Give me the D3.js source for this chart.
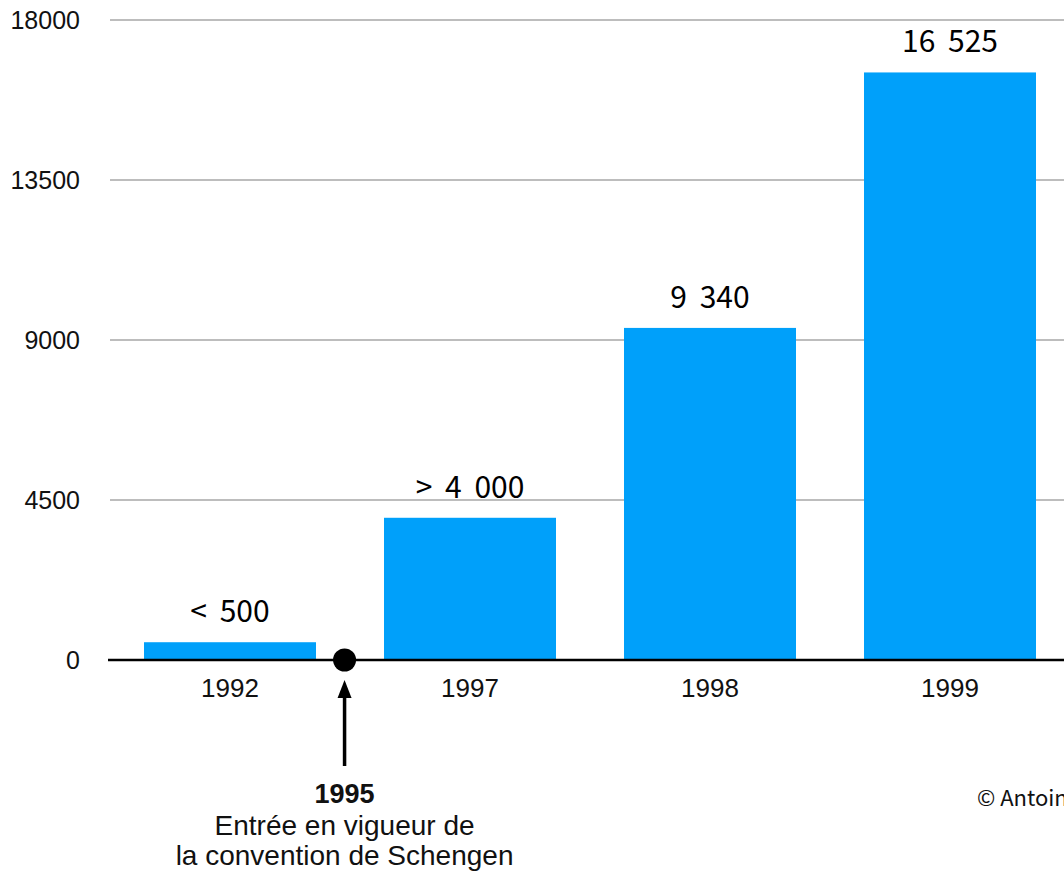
<!DOCTYPE html>
<html>
<head>
<meta charset="utf-8">
<script src="https://cdn.jsdelivr.net/npm/d3@7"></script>
<style>
  html, body { margin: 0; padding: 0; background: #fff; overflow: hidden; }
  svg { display: block; }
</style>
</head>
<body>
<svg id="chart" width="1064" height="875"></svg>
<script>
const categories = ["1992", "1997", "1998", "1999"];
const values = [500, 4000, 9340, 16525];
const valueLabels = ["< 500", "> 4 000", "9 340", "16 525"];
const yTicks = [0, 4500, 9000, 13500, 18000];
const eventYear = "1995";
const eventLines = ["Entrée en vigueur de", "la convention de Schengen"];
const credit = "© Antoine";

const svg = d3.select("#chart");
const x = d3.scaleBand().domain(categories).range([110, 1070])
  .paddingInner(68 / 240).paddingOuter(34 / 240);
const y = d3.scaleLinear().domain([0, 18000]).range([660, 20]);

// gridlines
svg.append("g").selectAll("line").data(yTicks.filter(d => d > 0)).join("line")
  .attr("x1", 110).attr("x2", 1070)
  .attr("y1", d => y(d)).attr("y2", d => y(d))
  .attr("stroke", "#bdbdbd").attr("stroke-width", 2);

// y tick labels
svg.append("g").selectAll("text").data(yTicks).join("text")
  .attr("x", 80).attr("y", d => y(d)).attr("dy", "0.36em")
  .attr("text-anchor", "end")
  .attr("font-family", "Liberation Sans, Arial, sans-serif")
  .attr("font-size", 25).attr("fill", "#111")
  .text(d => d);

// bars
svg.append("g").selectAll("rect").data(values).join("rect")
  .attr("x", (d, i) => x(categories[i]))
  .attr("width", x.bandwidth())
  .attr("y", d => y(d))
  .attr("height", d => y(0) - y(d))
  .attr("fill", "#00a0fa");

// value labels
svg.append("g").selectAll("text").data(values).join("text")
  .attr("x", (d, i) => x(categories[i]) + x.bandwidth() / 2)
  .attr("y", d => y(d) - 20)
  .attr("text-anchor", "middle")
  .attr("font-family", "Noto Sans CJK KR, Noto Sans, sans-serif")
  .attr("font-size", 30).attr("word-spacing", 6).attr("fill", "#000")
  .text((d, i) => valueLabels[i]);

// x axis baseline
svg.append("line").attr("x1", 108).attr("x2", 1070)
  .attr("y1", y(0)).attr("y2", y(0))
  .attr("stroke", "#000").attr("stroke-width", 2.5);

// category labels
svg.append("g").selectAll("text").data(categories).join("text")
  .attr("x", d => x(d) + x.bandwidth() / 2)
  .attr("y", 697)
  .attr("text-anchor", "middle")
  .attr("font-family", "Liberation Sans, Arial, sans-serif")
  .attr("font-size", 26).attr("fill", "#111")
  .text(d => d);

// event marker
const ex = x("1992") + x.bandwidth() + (x("1997") - x("1992") - x.bandwidth()) * 0.42;
svg.append("circle").attr("cx", ex).attr("cy", y(0)).attr("r", 11.5).attr("fill", "#000");
svg.append("line").attr("x1", ex).attr("x2", ex).attr("y1", 766).attr("y2", 694)
  .attr("stroke", "#000").attr("stroke-width", 3.5);
svg.append("path")
  .attr("d", `M${ex},680 L${ex - 7},698 L${ex + 7},698 Z`)
  .attr("fill", "#000");
svg.append("text").attr("x", ex).attr("y", 803).attr("text-anchor", "middle")
  .attr("font-family", "Liberation Sans, Arial, sans-serif")
  .attr("font-weight", "bold").attr("font-size", 27).attr("fill", "#111")
  .text(eventYear);
svg.append("g").selectAll("text").data(eventLines).join("text")
  .attr("x", ex).attr("y", (d, i) => 835 + i * 30).attr("text-anchor", "middle")
  .attr("font-family", "Liberation Sans, Arial, sans-serif")
  .attr("font-size", 28).attr("fill", "#111")
  .text(d => d);

// credit
svg.append("text").attr("x", 977).attr("y", 806)
  .attr("font-family", "Noto Sans CJK KR, Noto Sans, sans-serif")
  .attr("font-size", 22).attr("fill", "#111")
  .text(credit);
</script>
</body>
</html>
